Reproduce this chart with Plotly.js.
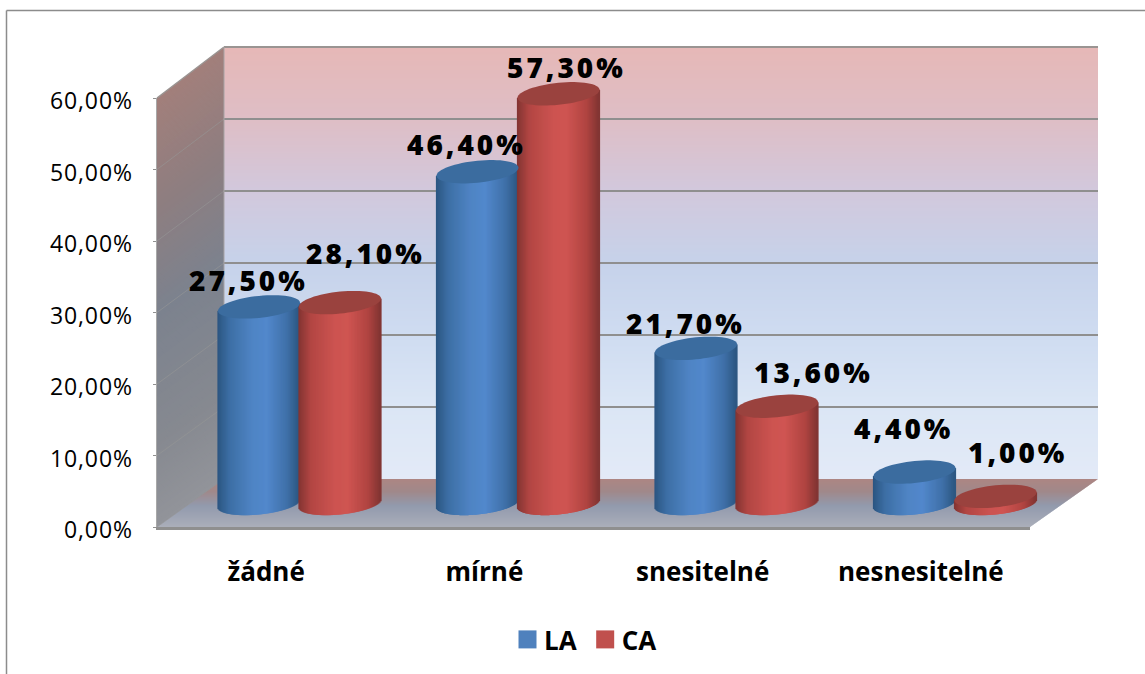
<!DOCTYPE html>
<html>
<head>
<meta charset="utf-8">
<script src="https://cdn.plot.ly/plotly-3.0.1.min.js"></script>
<style>
html,body{margin:0;padding:0;background:#fff;overflow:hidden}
#chart{width:1145px;height:674px}
.annotation-text{letter-spacing:3px}
.ytick text{letter-spacing:.9px}
.legendpoints path{transform:translate(23.5px,0) scale(1.5) !important}
</style>
</head>
<body>
<div id="chart"></div>
<script>
// Pain intensity by anaesthesia type
const categories = ['žádné', 'mírné', 'snesitelné', 'nesnesitelné'];
const laValues = [27.5, 46.4, 21.7, 4.4];
const caValues = [28.1, 57.3, 13.6, 1.0];
const laName = 'LA';
const caName = 'CA';

// Label nudges in pixels, one per bar
const laLabelShift = [[-11, 27], [-11, 28], [-11, 25], [-11, 44]];
const caLabelShift = [[25, 50], [8, 27], [36, 34], [22, 44]];

const W = 1145, H = 674;
const px = v => v / W, py = v => 1 - v / H;

// Scene geometry: front plane, back wall, and the mid-depth plane carrying the cylinders
const front = {l: 157, r: 1030, base: 527, top: 98};
const back = {l: 224, r: 1098, base: 479, top: 47};
const catPx = 218.5, valPx = 7.15;
const mid = {x0: 299.5, y0: 503.5};
const sub2 = {l: 150, r: 1110, t: 30, b: 530};
const halfGap = 40.5 / catPx, radius = 41 / catPx;
const capRy = 11, capTilt = 4;

function lerpStops(stops, t) {
  for (let i = 1; i < stops.length; i++) {
    if (t <= stops[i][0]) {
      const [a, ca] = stops[i - 1], [b, cb] = stops[i];
      const k = (t - a) / (b - a);
      const c = ca.map((v, j) => Math.round(v + (cb[j] - v) * k));
      return `rgb(${c[0]},${c[1]},${c[2]})`;
    }
  }
  const c = stops[stops.length - 1][1];
  return `rgb(${c[0]},${c[1]},${c[2]})`;
}

const wallStops = [[0,[230,184,183]],[.17,[222,190,198]],[.33,[210,200,220]],[.5,[198,210,234]],[.67,[207,220,241]],[.83,[219,230,245]],[1,[227,234,247]]];
const sideStops = [[0,[162,127,123]],[.25,[142,126,128]],[.5,[124,130,142]],[.8,[134,137,144]],[1,[146,148,154]]];
const floorStops = [[0,[172,134,131]],[.25,[160,136,138]],[.55,[146,154,173]],[1,[171,175,186]]];
const blueStops = [[0,[43,85,128]],[.15,[61,111,165]],[.42,[79,132,196]],[.6,[82,136,204]],[.85,[63,112,168]],[1,[44,86,128]]];
const redStops = [[0,[130,52,50]],[.15,[178,70,67]],[.45,[205,84,81]],[.6,[207,85,82]],[.85,[176,68,65]],[1,[128,52,50]]];

const shapes = [];
const poly = (pts, fill) => shapes.push({
  type: 'path', xref: 'paper', yref: 'paper', layer: 'below', line: {width: 0}, fillcolor: fill,
  path: 'M' + pts.map(p => px(p[0]) + ',' + py(p[1])).join('L') + 'Z'
});
const seg = (x0, y0, x1, y1, color, width) => shapes.push({
  type: 'line', xref: 'paper', yref: 'paper', layer: 'below',
  x0: px(x0), y0: py(y0), x1: px(x1), y1: py(y1), line: {color, width}
});

// Back wall gradient
const wallN = Math.round(back.base - back.top);
for (let i = 0; i < wallN; i++) {
  const y = back.top + i;
  poly([[back.l, y], [back.r, y], [back.r, y + 1.6], [back.l, y + 1.6]], lerpStops(wallStops, i / wallN));
}
// Left side wall
const sideN = 240;
const sideH = front.base - front.top;
for (let i = 0; i < sideN; i++) {
  const t = i / sideN, d = sideH / sideN;
  const yF = front.top + t * sideH, yB = back.top + t * (back.base - back.top);
  poly([[front.l, yF], [back.l, yB], [back.l, yB + d * 1.6], [front.l, yF + d * 1.6]], lerpStops(sideStops, t));
}
// Floor
const floorN = front.base - back.base;
for (let i = 0; i < floorN; i++) {
  const t = i / floorN, t2 = Math.min(1, (i + 1.6) / floorN);
  const xl = v => back.l + (front.l - back.l) * v, xr = v => back.r + (front.r - back.r) * v;
  const y = v => back.base + floorN * v;
  poly([[xl(t), y(t)], [xr(t), y(t)], [xr(t2), y(t2)], [xl(t2), y(t2)]], lerpStops(floorStops, t));
}
// Gridlines on the back and side walls
const gridColor = '#8f8f8f';
const sideGrid = 'rgba(150,150,150,0.6)';
for (let v = 10; v <= 50; v += 10) {
  const yB = back.base - v * (back.base - back.top) / 60;
  seg(back.l, yB, back.r, yB, gridColor, 2);
  seg(front.l, front.base - v * valPx, back.l, yB, sideGrid, 1);
}
seg(front.l, front.base, back.l, back.base, sideGrid, 1);
seg(back.l, back.top, back.r, back.top, '#9a9492', 2);
seg(front.l, front.top, back.l, back.top, '#9a9492', 1.5);
seg(back.l, back.top, back.l, back.base, '#a8a4a6', 1);
// Outer chart frame
seg(6.5, 10.5, W, 10.5, '#8c8c8c', 1.5);
seg(6.5, 10.5, 6.5, H, '#8c8c8c', 1.5);

// Cylinder construction from the data values
const stripN = 82;
const capPts = 64;
const toYval = p => p / valPx;
function cylinderTrace(values, sign, stops) {
  const x = [], y = [], base = [], color = [];
  values.forEach((v, c) => {
    const cx = c + sign * halfGap;
    for (let i = 0; i < stripN; i++) {
      const u = -1 + (2 * (i + .5)) / stripN;
      const tilt = toYval(capTilt) * u;
      const arc = toYval(capRy) * Math.sqrt(1 - u * u);
      x.push(cx + u * radius);
      base.push(tilt - arc);
      y.push(v + arc);
      color.push(lerpStops(stops, (u + 1) / 2));
    }
  });
  return {
    type: 'bar', x, y, base, width: 2.2 / catPx, xaxis: 'x2', yaxis: 'y2',
    marker: {color, line: {width: 0}}, showlegend: false, hoverinfo: 'skip'
  };
}
function capShapes(values, sign, fill) {
  values.forEach((v, c) => {
    const cx = c + sign * halfGap;
    let d = '';
    for (let i = 0; i < capPts; i++) {
      const a = (2 * Math.PI * i) / capPts;
      const u = Math.cos(a);
      const yy = v + toYval(capTilt) * u + toYval(capRy) * Math.sin(a);
      d += (i ? 'L' : 'M') + (cx + u * radius) + ',' + yy;
    }
    shapes.push({type: 'path', xref: 'x2', yref: 'y2', layer: 'above', path: d + 'Z', fillcolor: fill, line: {width: 0}});
  });
}
capShapes(laValues, -1, '#3b6c9f');
capShapes(caValues, 1, '#9a423e');

// Series traces carry the values and the legend entries
const seriesBar = (name, values, sign, color) => ({
  type: 'bar', name, x: values.map((_, c) => c + sign * halfGap), y: values,
  width: 1.1 * radius, xaxis: 'x2', yaxis: 'y2',
  marker: {color, line: {width: 0}}, hoverinfo: 'skip'
});

const fmt = v => v.toFixed(2).replace('.', ',') + '%';
const labels = (values, sign, shifts) => values.map((v, c) => ({
  xref: 'x2', yref: 'y2', x: c + sign * halfGap, y: v, text: fmt(v), showarrow: false,
  xanchor: 'center', yanchor: 'middle', xshift: shifts[c][0], yshift: shifts[c][1],
  font: {family: 'Open Sans', size: 28, color: '#000', weight: 800}
}));

const data = [
  {type: 'scatter', mode: 'none', x: categories, y: categories.map(() => 0), showlegend: false, hoverinfo: 'skip'},
  seriesBar(laName, laValues, -1, '#4f81bd'),
  seriesBar(caName, caValues, 1, '#c0504d'),
  cylinderTrace(laValues, -1, blueStops),
  cylinderTrace(caValues, 1, redStops)
];

const layout = {
  width: W, height: H,
  margin: {l: 0, r: 0, t: 0, b: 0, pad: 0},
  paper_bgcolor: '#fff', plot_bgcolor: 'rgba(0,0,0,0)',
  separators: ',.',
  barmode: 'overlay',
  font: {family: 'Open Sans', color: '#000'},
  xaxis: {
    domain: [px(front.l), px(front.r)], type: 'category', range: [-.5, 3.5],
    categoryorder: 'array', categoryarray: categories,
    showline: true, linecolor: '#8f8f8f', linewidth: 2.5, showgrid: false, zeroline: false, ticks: '',
    ticklabelstandoff: 20, tickfont: {family: 'Open Sans', size: 26, weight: 700, color: '#000'}, anchor: 'y', fixedrange: true
  },
  yaxis: {
    domain: [py(front.base), py(front.top)], range: [0, 60], dtick: 10, tickformat: '.2f', ticksuffix: '%',
    showline: true, linecolor: '#a8a8a8', linewidth: 1.5, showgrid: false, zeroline: false,
    ticks: 'outside', ticklen: 3, tickcolor: '#8f8f8f', ticklabelstandoff: 15, ticklabelshift: 3,
    tickfont: {family: 'Open Sans', size: 23, color: '#000'}, anchor: 'x', fixedrange: true
  },
  xaxis2: {
    domain: [px(sub2.l), px(sub2.r)], anchor: 'y2', visible: false, fixedrange: true,
    range: [(sub2.l - mid.x0) / catPx, (sub2.r - mid.x0) / catPx]
  },
  yaxis2: {
    domain: [py(sub2.b), py(sub2.t)], anchor: 'x2', visible: false, fixedrange: true,
    range: [(mid.y0 - sub2.b) / valPx, (mid.y0 - sub2.t) / valPx]
  },
  shapes,
  annotations: labels(laValues, -1, laLabelShift).concat(labels(caValues, 1, caLabelShift)),
  showlegend: true,
  legend: {
    orientation: 'h', x: px(504), y: py(616), xanchor: 'left', yanchor: 'top',
    bgcolor: 'rgba(0,0,0,0)', font: {family: 'Open Sans', size: 26, weight: 700, color: '#000'},
    itemclick: false, itemdoubleclick: false
  }
};

Plotly.newPlot('chart', data, layout, {displayModeBar: false, staticPlot: true});
</script>
</body>
</html>
